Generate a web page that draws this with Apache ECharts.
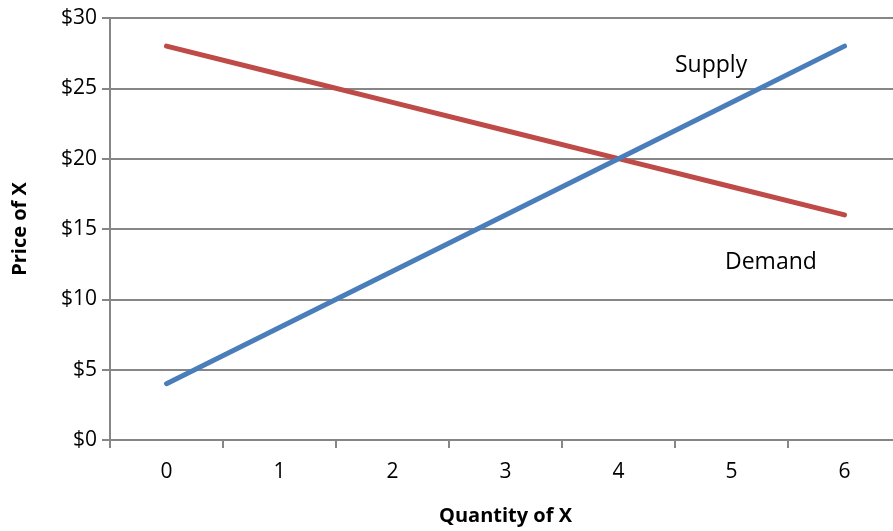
<!DOCTYPE html>
<html>
<head>
<meta charset="utf-8">
<script src="https://cdn.jsdelivr.net/npm/echarts@6/dist/echarts.min.js"></script>
<style>
  html, body { margin: 0; padding: 0; background: #fff; }
  #chart { width: 893px; height: 531px; }
</style>
</head>
<body>
<div id="chart"></div>
<script>
// quantities and prices
const quantities = ['0', '1', '2', '3', '4', '5', '6'];
const supply = [4, 8, 12, 16, 20, 24, 28];
const demand = [28, 26, 24, 22, 20, 18, 16];
const priceTicks = [0, 5, 10, 15, 20, 25, 30];

const font = '"Open Sans", "Liberation Sans", sans-serif';
const gray = '#868686';

const chart = echarts.init(document.getElementById('chart'));
chart.setOption({
  animation: false,
  grid: { left: 110, top: 18, width: 791, height: 422, containLabel: false, outerBoundsMode: 'none' },
  xAxis: {
    type: 'category',
    data: quantities,
    boundaryGap: true,
    name: 'Quantity of X',
    nameLocation: 'middle',
    nameGap: 66,
    nameTextStyle: { fontFamily: font, fontSize: 20, fontWeight: 'bold', color: '#000' },
    axisLine: { lineStyle: { color: gray, width: 2 } },
    axisTick: { show: true, length: 8, lineStyle: { color: gray, width: 2 } },
    axisLabel: { margin: 22, fontFamily: font, fontSize: 21, color: '#000' },
    splitLine: { show: false }
  },
  yAxis: {
    type: 'value',
    min: 0,
    max: 30,
    interval: 5,
    name: 'Price of X',
    nameLocation: 'middle',
    nameGap: 80,
    nameTextStyle: { fontFamily: font, fontSize: 20, fontWeight: 'bold', color: '#000' },
    axisLine: { show: true, lineStyle: { color: gray, width: 2 } },
    axisTick: { show: true, length: 8, lineStyle: { color: gray, width: 2 } },
    axisLabel: {
      margin: 13, fontFamily: font, fontSize: 21, color: '#000',
      formatter: v => priceTicks.includes(v) ? '$' + v : ''
    },
    splitLine: { lineStyle: { color: gray, width: 2 } }
  },
  series: [
    {
      name: 'Demand', type: 'line', data: demand, showSymbol: false,
      lineStyle: { color: '#be4b48', width: 5, cap: 'round' }, itemStyle: { color: '#be4b48' }
    },
    {
      name: 'Supply', type: 'line', data: supply, showSymbol: false,
      lineStyle: { color: '#4a7ebb', width: 5, cap: 'round' }, itemStyle: { color: '#4a7ebb' }
    }
  ],
  graphic: [
    { type: 'text', left: 675, top: 54, style: { text: 'Supply', font: '23px ' + font, fill: '#000' } },
    { type: 'text', left: 725, top: 251, style: { text: 'Demand', font: '23px ' + font, fill: '#000' } }
  ]
});
</script>
</body>
</html>
